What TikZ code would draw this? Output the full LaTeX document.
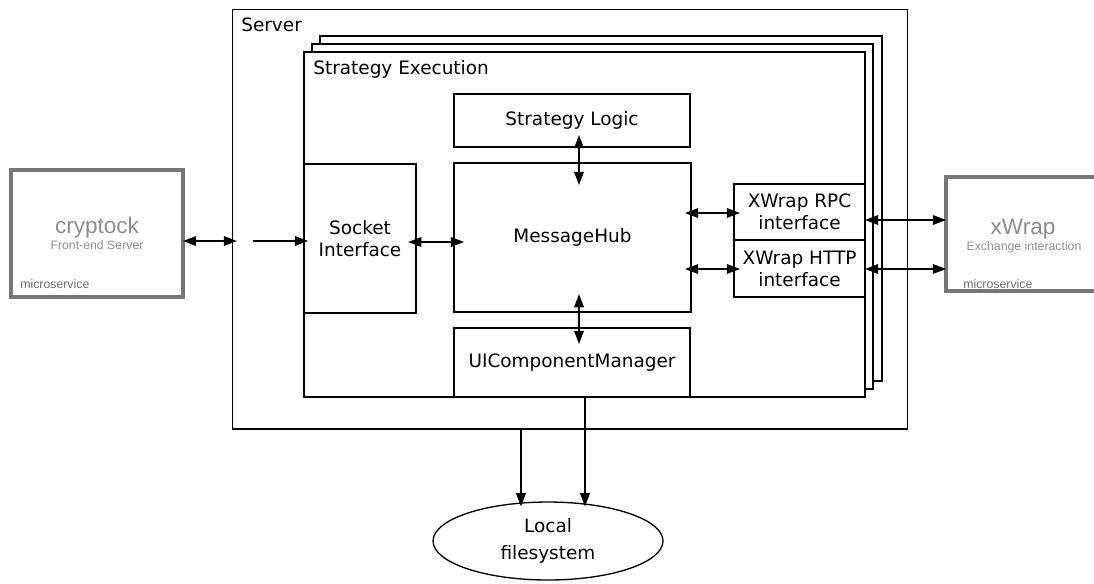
\documentclass[tikz,border=0pt]{standalone}
\usepackage{fontspec}
\setmainfont{DejaVu Sans}
\newfontfamily\arialfont{Liberation Sans}
\usetikzlibrary{arrows.meta,shapes.geometric,positioning}
\definecolor{svcborder}{HTML}{767676}
\definecolor{svctext}{HTML}{8C8C8C}
\definecolor{svcnote}{HTML}{6E6E6E}

\begin{document}
\begin{tikzpicture}[x=0.02cm,y=-0.02cm,>={Triangle[length=7.5pt,width=5.5pt]},
	font=\fontsize{10.5}{12.6}\selectfont]

	\tikzstyle{rect}=[
		rectangle,
		draw=black,
		line width=0.75pt,
		fill=white,
		inner sep=0pt,
		outer sep=0pt,
		align=center
	]
	\tikzstyle{service}=[
		rectangle,
		draw=svcborder,
		line width=1.8pt,
		inner sep=0pt,
		outer sep=0pt
	]
	\tikzstyle{boxlabel}=[inner sep=0pt, anchor=base west]
	\tikzstyle{servicename}=[inner sep=0pt, text=svctext, font=\arialfont\fontsize{12.8}{15}\selectfont]
	\tikzstyle{servicerole}=[inner sep=0pt, text=svctext, font=\arialfont\fontsize{7}{8.4}\selectfont]
	\tikzstyle{servicenote}=[inner sep=0pt, text=svcnote, font=\arialfont\fontsize{7}{8.4}\selectfont]
	\tikzstyle{link}=[<->, line width=0.7pt]
	\tikzstyle{flow}=[->, line width=0.7pt]

	\useasboundingbox (0,0) rectangle (1094,583);

	% server and the stacked strategy executions
	\node [rect, minimum width=13.52cm, minimum height=8.4cm, line width=0.6pt] (server) at (570,219) {};
	\node [boxlabel] (serverlabel) at (241,31) {Server};

	\node [rect, minimum width=11.24cm, minimum height=6.9cm] (exec3) at (601,208.5) {};
	\node [rect, minimum width=11.22cm, minimum height=6.9cm] (exec2) at (592.5,216.5) {};
	\node [rect, minimum width=11.22cm, minimum height=6.9cm] (exec) at (584.5,224.5) {};
	\node [boxlabel] (execlabel) at (313,74) {Strategy Execution};

	\node [rect, minimum width=4.72cm, minimum height=1.06cm] (logic) at (572,120.5) {\raisebox{-2pt}{Strategy Logic}};
	\node [rect, minimum width=4.74cm, minimum height=2.98cm] (hub) at (572.5,237.5) {\raisebox{-2pt}{MessageHub}};
	\node [rect, minimum width=2.24cm, minimum height=2.98cm] (socket) at (360,238.5) {Socket\\Interface};
	\node [rect, minimum width=4.72cm, minimum height=1.38cm] (uicm) at (572,362.5) {\raisebox{-2pt}{UIComponentManager}};
	\node [rect, minimum width=2.62cm, minimum height=1.12cm] (rpc) at (799.5,212) {XWrap RPC\\interface};
	\node [rect, minimum width=2.62cm, minimum height=1.14cm, below=0pt of rpc] (http) {XWrap HTTP\\interface};

	\node [ellipse, draw=black, line width=0.75pt, minimum width=4.6cm, minimum height=1.56cm,
		inner sep=0pt, outer sep=0pt, align=center] (fs) at (548,541) {Local\\[2.5pt]filesystem};

	% microservices
	\node [service, minimum width=3.44cm, minimum height=2.54cm] (cryptock) at (97,233.5) {};
	\node [servicename, anchor=base] (cryptockname) at (97,233) {cryptock};
	\node [servicerole, anchor=base] (cryptockrole) at (97,249) {Front-end Server};
	\node [servicenote, anchor=base west] (cryptocknote) at (20,288) {microservice};

	\node [service, minimum width=3.08cm, minimum height=2.28cm] (xwrap) at (1023,234) {};
	\node [servicename, anchor=base] (xwrapname) at (1023,234) {xWrap};
	\node [servicerole, anchor=base] (xwraprole) at (1024,250) {Exchange interaction};
	\node [servicenote, anchor=base west] (xwrapnote) at (963,288) {microservice};

	% connectors
	\coordinate (yin) at (0,241);
	\coordinate (srvin) at (253,241);
	\coordinate (ysock) at (0,242);
	\coordinate (yrpc) at (0,213);
	\coordinate (yrpcout) at (0,220);
	\coordinate (yhttp) at (0,269);
	\coordinate (xmid) at (579,0);
	\coordinate (xfs1) at (521,0);
	\coordinate (xfs2) at (585,0);

	\draw[link, shorten >=-2.8pt] (cryptock.east |- yin) -- (server.west |- yin);
	\draw[flow, shorten >=-2.3pt] (srvin) -- (exec.west |- srvin);
	\draw[link, shorten <=-4.5pt, shorten >=-5.7pt] (socket.east |- ysock) -- (hub.west |- ysock);

	\draw[link, shorten <=-6.8pt, shorten >=-12.5pt] (logic.south -| xmid) -- (hub.north -| xmid);
	\draw[link, shorten <=-10.2pt, shorten >=-9.1pt] (hub.south -| xmid) -- (uicm.north -| xmid);

	\draw[link, shorten <=-3.4pt, shorten >=-3.4pt] (hub.east |- yrpc) -- (rpc.west |- yrpc);
	\draw[link, shorten <=-3.4pt, shorten >=-3.4pt] (hub.east |- yhttp) -- (http.west |- yhttp);
	\draw[link] (rpc.east |- yrpcout) -- (xwrap.west |- yrpcout);
	\draw[link] (http.east |- yhttp) -- (xwrap.west |- yhttp);

	\draw[flow, shorten >=-2.5pt] (server.south -| xfs1) -- (fs.north -| xfs1);
	\draw[flow, shorten >=-2.5pt] (uicm.south -| xfs2) -- (fs.north -| xfs2);

\end{tikzpicture}
\end{document}
